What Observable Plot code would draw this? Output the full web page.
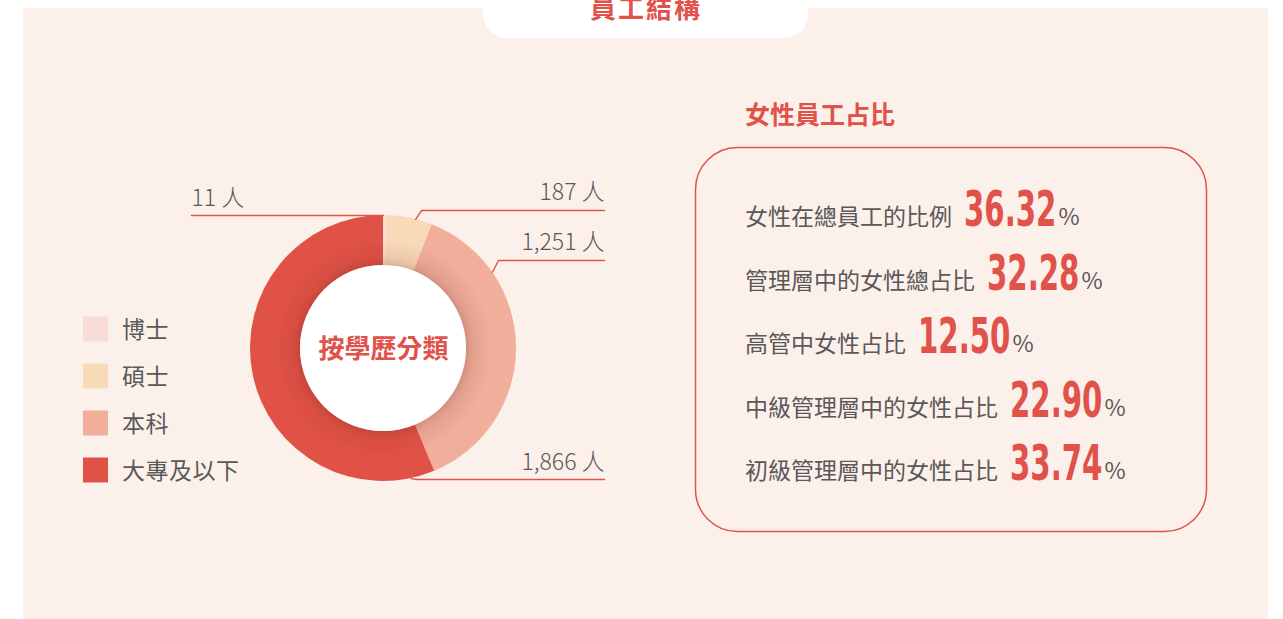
<!DOCTYPE html>
<html lang="zh-Hant">
<head>
<meta charset="utf-8">
<script src="https://cdn.jsdelivr.net/npm/d3@7"></script>
<script src="https://cdn.jsdelivr.net/npm/@observablehq/plot@0.6"></script>
<style>
html,body{margin:0;padding:0;background:#fff;}
body{width:1283px;height:619px;position:relative;overflow:hidden;font-family:"Noto Sans CJK TC","Noto Sans",sans-serif;}
#bg{position:absolute;left:0;top:0;}
#donut{position:absolute;left:180px;top:175px;width:440px;height:320px;}
</style>
</head>
<body>
<svg id="bg" width="1283" height="619"></svg>
<div id="donut"></div>
<script>
// ---------- data ----------
const categories = ["博士", "碩士", "本科", "大專及以下"];
const headcounts = [11, 187, 1251, 1866];
const countLabels = ["11 人", "187 人", "1,251 人", "1,866 人"];
const kpiLabels = ["女性在總員工的比例", "管理層中的女性總占比", "高管中女性占比", "中級管理層中的女性占比", "初級管理層中的女性占比"];
const kpiValues = [36.32, 32.28, 12.50, 22.90, 33.74];
const pageTitle = "員工結構";
const donutTitle = "按學歷分類";
const kpiTitle = "女性員工占比";

// ---------- styles ----------
const palette = ["#F9DDD5", "#F8DAB8", "#F0AE9B", "#E05246"];
const RED = "#E0524A", GRAY = "#5a5858", PANEL = "#FCF0EB";
const FONT = "'Noto Sans CJK TC','Noto Sans',sans-serif";
const NUMFONT = "'DejaVu Sans Condensed','DejaVu Sans',sans-serif";

// ---------- background, title, legend, KPI panel ----------
const bg = d3.select("#bg").attr("font-family", FONT);
bg.append("rect").attr("x", 23).attr("y", 8).attr("width", 1245).attr("height", 611).attr("fill", PANEL);
bg.append("rect").attr("x", 483).attr("y", -30).attr("width", 325).attr("height", 68).attr("rx", 24).attr("fill", "#fff");
bg.append("text").attr("x", 646).attr("y", 18).attr("text-anchor", "middle")
  .attr("font-size", 26).attr("font-weight", 700).attr("letter-spacing", 2).attr("fill", RED).text(pageTitle);

const color = d3.scaleOrdinal(categories, palette);
const legendY = d3.scalePoint().domain(categories).range([329, 470]);
categories.forEach(c => {
  const cy = legendY(c);
  bg.append("rect").attr("x", 83).attr("y", cy - 12.5).attr("width", 25).attr("height", 25).attr("fill", color(c));
  bg.append("text").attr("x", 122).attr("y", cy + 9).attr("font-size", 23).attr("letter-spacing", 0.5)
    .attr("fill", GRAY).text(c);
});

bg.append("text").attr("x", 745).attr("y", 124).attr("font-size", 25).attr("font-weight", 700)
  .attr("fill", RED).text(kpiTitle);
bg.append("rect").attr("x", 695.5).attr("y", 147.5).attr("width", 511).attr("height", 384).attr("rx", 42)
  .attr("fill", "none").attr("stroke", RED).attr("stroke-width", 1.5);
const rowY = d3.scalePoint().domain(kpiLabels).range([225, 479]);
const NUMSCALE = 0.65;
kpiLabels.forEach((lab, i) => {
  const y = rowY(lab);
  const t = bg.append("text").attr("x", 745).attr("y", y).attr("font-size", 23).attr("fill", GRAY).text(lab);
  const w = t.node().getComputedTextLength();
  const nx = 745 + w + 12;
  const n = bg.append("text").attr("transform", `translate(${nx},${y + 1}) scale(${NUMSCALE},1)`)
    .attr("font-family", NUMFONT).attr("font-weight", 700).attr("font-size", 50).attr("fill", RED)
    .text(d3.format(".2f")(kpiValues[i]));
  const nw = n.node().getComputedTextLength() * NUMSCALE;
  bg.append("text").attr("x", nx + nw + 2).attr("y", y).attr("font-size", 23).attr("fill", GRAY).text("%");
});

// ---------- donut (Observable Plot) ----------
const W = 440, H = 320, R = 133, CX = 203, CY = 173, INNER = 0.624;
const donutData = categories.map((c, i) => ({category: c, count: headcounts[i], label: countLabels[i]}));

// leader layout: anchor angle on ring (deg clockwise from top), leader height and end (radius units)
const leaderLayout = [
  {angle: 0, lineY: 1.0, endX: -1.444, anchor: "start"},
  {angle: 14, lineY: 1.038, endX: 1.662, anchor: "end"},
  {angle: 55, lineY: 0.662, endX: 1.662, anchor: "end"},
  {angle: 168, lineY: -0.985, endX: 1.662, anchor: "end"}
];
const leaderPts = [], labelPts = [];
donutData.forEach((d, i) => {
  const L = leaderLayout[i];
  const a = L.angle * Math.PI / 180;
  const ax = Math.sin(a), ay = Math.cos(a);
  const ex = L.angle === 0 ? ax : ax + 0.045;
  leaderPts.push({k: d.category, x: ax, y: ay}, {k: d.category, x: ex, y: L.lineY}, {k: d.category, x: L.endX, y: L.lineY});
  labelPts.push({x: L.endX, y: L.lineY, text: d.label, anchor: L.anchor});
});

function donutMark(index, scales) {
  const {x, y} = scales;
  const cx = x(0), cy = y(0), Ro = x(1) - x(0), Ri = Ro * INNER;
  const g = d3.create("svg:g").attr("transform", `translate(${cx},${cy})`);
  const defs = g.append("defs");
  const grad = defs.append("radialGradient").attr("id", "ringShade").attr("gradientUnits", "userSpaceOnUse")
    .attr("cx", 0).attr("cy", 0).attr("r", Ro);
  grad.append("stop").attr("offset", Ri / Ro).attr("stop-color", "#7a1f14").attr("stop-opacity", 0.13);
  grad.append("stop").attr("offset", 0.82).attr("stop-color", "#7a1f14").attr("stop-opacity", 0);
  const filt = defs.append("filter").attr("id", "innerShadow")
    .attr("x", "-30%").attr("y", "-30%").attr("width", "160%").attr("height", "160%");
  filt.append("feDropShadow").attr("dx", 0).attr("dy", 0).attr("stdDeviation", 4)
    .attr("flood-color", "#000").attr("flood-opacity", 0.16);
  const arcs = d3.pie().sort(null).value(d => d.count)(donutData);
  const arc = d3.arc().innerRadius(Ri).outerRadius(Ro);
  g.selectAll("path.slice").data(arcs).join("path").attr("class", "slice")
    .attr("d", arc).attr("fill", d => color(d.data.category));
  g.append("circle").attr("r", Ro).attr("fill", "url(#ringShade)");
  g.append("circle").attr("r", Ri).attr("fill", "#fff").attr("filter", "url(#innerShadow)");
  return g.node();
}

const chart = Plot.plot({
  width: W, height: H,
  margin: 0,
  x: {domain: [-CX / R, (W - CX) / R], axis: null},
  y: {domain: [-(H - CY) / R, CY / R], axis: null},
  style: {background: "transparent", fontFamily: FONT, overflow: "visible"},
  marks: [
    donutMark,
    Plot.text([{x: 0, y: 0, t: donutTitle}], {x: "x", y: "y", text: "t", fontSize: 26, fontWeight: 700,
      fill: RED, textAnchor: "middle", lineAnchor: "middle", dy: 1}),
    Plot.line(leaderPts, {x: "x", y: "y", z: "k", stroke: RED, strokeWidth: 1.4, curve: "linear"}),
    Plot.text(labelPts.filter(d => d.anchor === "end"), {x: "x", y: "y", text: "text", textAnchor: "end",
      lineAnchor: "bottom", dy: -10, fontSize: 23, fontWeight: 300, fill: GRAY}),
    Plot.text(labelPts.filter(d => d.anchor === "start"), {x: "x", y: "y", text: "text", textAnchor: "start",
      lineAnchor: "bottom", dy: -10, fontSize: 23, fontWeight: 300, fill: GRAY})
  ]
});
document.getElementById("donut").appendChild(chart);
</script>
</body>
</html>
